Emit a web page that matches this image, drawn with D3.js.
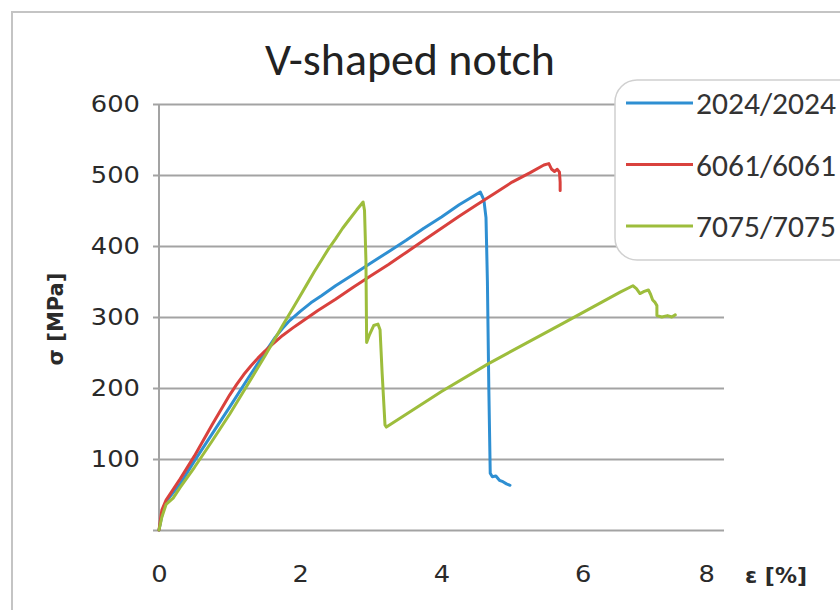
<!DOCTYPE html>
<html>
<head>
<meta charset="utf-8">
<script src="https://cdn.jsdelivr.net/npm/d3@7/dist/d3.min.js"></script>
<style>
  html, body { margin: 0; padding: 0; background: #fff; }
  svg { display: block; }
</style>
</head>
<body>
<svg id="chart" width="840" height="610"></svg>
<script>
// Tensile tests of V-notched joints: strain ε [%] against stress σ [MPa]
const seriesNames = ["2024/2024", "6061/6061", "7075/7075"];
const seriesColors = ["#2e8fd2", "#d9413d", "#9dbd3c"];

const strain2024 = [0, 0.05, 0.1, 0.3, 0.5, 0.75, 1.0, 1.25, 1.5, 1.65, 1.75, 1.85, 2.0, 2.15, 2.3, 2.5, 2.75, 3.0, 3.25, 3.5, 3.75, 4.0, 4.25, 4.45, 4.55, 4.6, 4.63, 4.65, 4.67, 4.69, 4.72, 4.77, 4.82, 4.87, 4.92, 4.97];
const stress2024 = [0, 25, 40, 65, 97, 135, 173, 212, 250, 272, 284, 295, 308, 320, 330, 344, 360, 376, 392, 408, 425, 441, 458, 470, 476, 465, 440, 350, 200, 80, 75, 76, 70, 68, 65, 63];

const strain6061 = [0, 0.04, 0.1, 0.3, 0.5, 0.75, 1.0, 1.1, 1.2, 1.3, 1.4, 1.5, 1.6, 1.75, 1.9, 2.0, 2.25, 2.5, 2.75, 3.0, 3.25, 3.5, 3.75, 4.0, 4.25, 4.5, 4.75, 5.0, 5.25, 5.45, 5.52, 5.56, 5.6, 5.64, 5.67, 5.68, 5.68];
const stress6061 = [0, 28, 42, 72, 104, 148, 190, 205, 219, 231, 242, 252, 261, 274, 285, 292, 309, 325, 342, 358, 374, 391, 408, 425, 442, 458, 474, 490, 503, 514, 516, 508, 505, 508, 504, 490, 478];

const strain7075 = [0, 0.04, 0.1, 0.2, 0.3, 0.5, 0.75, 1.0, 1.25, 1.5, 1.75, 1.9, 2.0, 2.1, 2.2, 2.3, 2.4, 2.5, 2.6, 2.7, 2.8, 2.85, 2.89, 2.91, 2.93, 2.94, 2.98, 3.04, 3.1, 3.13, 3.16, 3.2, 3.22, 4.0, 4.66, 5.68, 6.53, 6.71, 6.76, 6.81, 6.87, 6.93, 6.96, 6.99, 7.02, 7.05, 7.05, 7.12, 7.2, 7.26, 7.31];
const stress7075 = [0, 18, 36, 45, 60, 88, 125, 163, 204, 245, 288, 313, 330, 347, 364, 380, 396, 410, 425, 438, 451, 457, 462, 450, 380, 264, 275, 288, 290, 282, 220, 148, 145, 195, 234, 289, 335, 344, 340, 333, 336, 338, 332, 324, 321, 316, 302, 300, 302, 300, 303];

const gridValues = [0, 100, 200, 300, 400, 500, 600];
const yTickLabels = [100, 200, 300, 400, 500, 600];
const xTickValues = [0, 2, 4, 6, 8];

const chartTitle = "V-shaped notch";
const xTitle = "ε [%]";
const yTitle = "σ [MPa]";

const series = [
  { name: seriesNames[0], color: seriesColors[0], x: strain2024, y: stress2024 },
  { name: seriesNames[1], color: seriesColors[1], x: strain6061, y: stress6061 },
  { name: seriesNames[2], color: seriesColors[2], x: strain7075, y: stress7075 }
];

const svg = d3.select("#chart");
const tickFont = "DejaVu Sans, Verdana, sans-serif";

// outer chart frame
svg.append("rect")
  .attr("x", 12).attr("y", 12).attr("width", 840).attr("height", 640)
  .attr("fill", "#fff").attr("stroke", "#c4c4c4").attr("stroke-width", 2);

const x = d3.scaleLinear().domain([0, 8]).range([159, 724]);
const y = d3.scaleLinear().domain([0, 600]).range([530, 104]);

const gridColor = "#a3a3a3";

// horizontal gridlines (with a short tick stub left of the axis)
const gridAxis = d3.axisLeft(y).tickValues(gridValues).tickSize(0).tickFormat("");
const gGrid = svg.append("g").attr("transform", `translate(${x(0)},0)`).call(gridAxis);
gGrid.select(".domain").remove();
gGrid.selectAll(".tick line")
  .attr("x1", -6).attr("x2", x(8) - x(0))
  .attr("stroke", gridColor).attr("stroke-width", 2);

// vertical axis line
svg.append("line")
  .attr("x1", x(0)).attr("x2", x(0)).attr("y1", y(600)).attr("y2", y(0))
  .attr("stroke", gridColor).attr("stroke-width", 2);

// y tick labels (digits drawn slightly wide)
const yAxis = d3.axisLeft(y).tickValues(yTickLabels).tickSize(0).tickPadding(0);
const gY = svg.append("g").attr("transform", "translate(140,0)").call(yAxis);
gY.select(".domain").remove();
gY.selectAll(".tick text")
  .attr("font-family", tickFont)
  .attr("font-size", 23).attr("fill", "#2a2a2a")
  .attr("transform", "scale(1.12,1)");

// x tick labels
const xAxis = d3.axisBottom(x).tickValues(xTickValues).tickSize(0).tickPadding(0);
const gX = svg.append("g").attr("transform", "translate(0,566)").call(xAxis);
gX.select(".domain").remove();
gX.selectAll(".tick text")
  .attr("font-family", tickFont)
  .attr("font-size", 23).attr("fill", "#2a2a2a")
  .attr("transform", "scale(1.12,1)")
  .attr("dx", d => d === 8 ? -16 : 0);

// axis titles
svg.append("text")
  .attr("x", 776).attr("y", 583)
  .attr("text-anchor", "middle")
  .attr("font-family", tickFont)
  .attr("font-weight", "bold").attr("font-size", 22).attr("fill", "#2a2a2a")
  .text(xTitle);

svg.append("text")
  .attr("transform", "translate(63,319) rotate(-90)")
  .attr("text-anchor", "middle")
  .attr("font-family", tickFont)
  .attr("font-weight", "bold").attr("font-size", 21).attr("fill", "#2a2a2a")
  .text(yTitle);

// title, sized to its box
const title = svg.append("text")
  .attr("x", 410).attr("y", 75)
  .attr("text-anchor", "middle")
  .attr("font-family", "Carlito, Lato, sans-serif")
  .attr("font-size", 34).attr("fill", "#222")
  .text(chartTitle);
const tw = title.node().getComputedTextLength();
title.attr("font-size", 34 * 290 / tw);

// curves
const line = d3.line().x(d => x(d[0])).y(d => y(d[1])).curve(d3.curveLinear);
series.forEach(s => {
  const pts = s.x.map((v, i) => [v, s.y[i]]);
  svg.append("path")
    .datum(pts)
    .attr("d", line)
    .attr("fill", "none")
    .attr("stroke", s.color)
    .attr("stroke-width", 3)
    .attr("stroke-linejoin", "round")
    .attr("stroke-linecap", "round");
});

// legend
const legend = svg.append("g");
legend.append("rect")
  .attr("x", 615).attr("y", 80).attr("width", 260).attr("height", 180)
  .attr("rx", 22).attr("ry", 22)
  .attr("fill", "#fff").attr("stroke", "#d0d0d0").attr("stroke-width", 1.5);

const legendY = d3.scalePoint().domain(seriesNames).range([103, 226]);
series.forEach(s => {
  const ly = legendY(s.name);
  legend.append("line")
    .attr("x1", 626).attr("x2", 693).attr("y1", ly).attr("y2", ly)
    .attr("stroke", s.color).attr("stroke-width", 3);
  const t = legend.append("text")
    .attr("x", 696).attr("y", ly).attr("dy", "0.36em")
    .attr("font-family", "Carlito, Lato, sans-serif")
    .attr("font-size", 25).attr("fill", "#333")
    .text(s.name);
  const w = t.node().getComputedTextLength();
  t.attr("font-size", 25 * 140 / w);
});
</script>
</body>
</html>
